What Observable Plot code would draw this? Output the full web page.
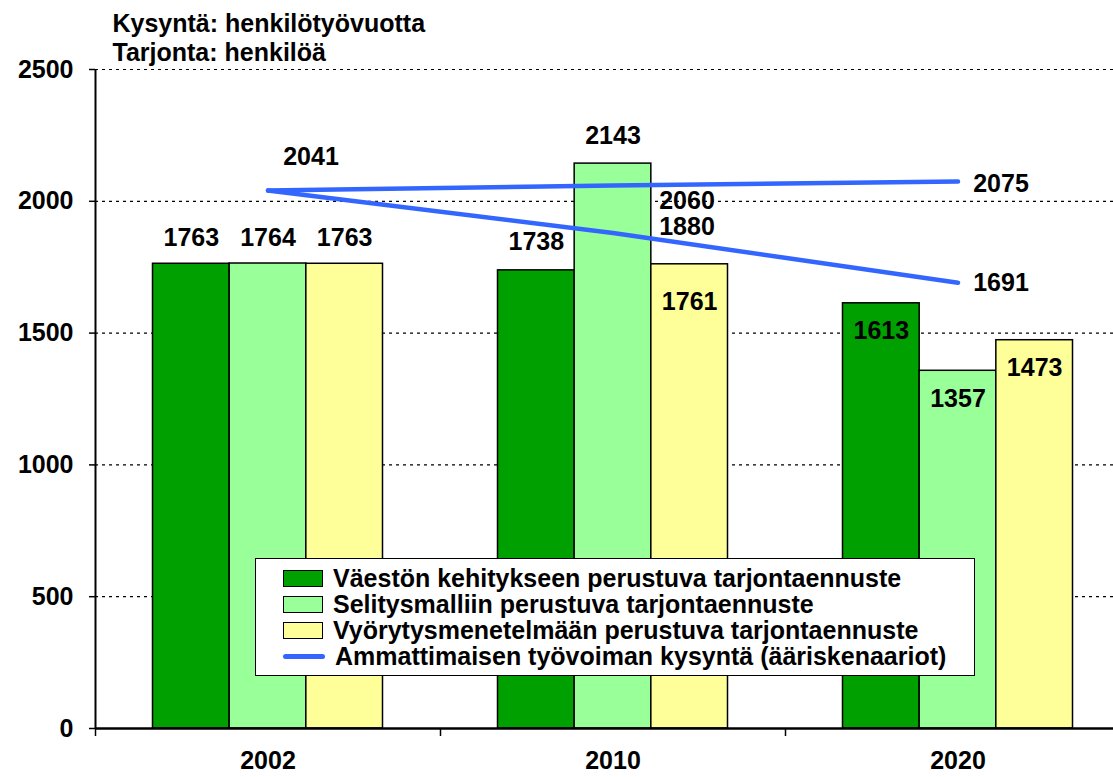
<!DOCTYPE html>
<html><head><meta charset="utf-8">
<script src="https://cdn.jsdelivr.net/npm/d3@7"></script>
<script src="https://cdn.jsdelivr.net/npm/@observablehq/plot@0.6"></script>
<style>
body{margin:0;background:#fff;font-family:"Liberation Sans",Arial,sans-serif;}
#wrap{position:relative;width:1113px;height:777px;overflow:hidden;}
#legend{position:absolute;left:255px;top:558px;width:720px;height:118px;border:1.5px solid #000;background:#fff;box-sizing:border-box;padding-top:6px;}
.row{display:flex;align-items:center;height:26px;font-weight:bold;font-size:25px;color:#000;white-space:nowrap;}
.sw{width:40px;height:17px;border:1.5px solid #000;margin-left:27px;margin-right:10px;box-sizing:border-box;}
.ln{width:42px;height:5px;border-radius:3px;margin-left:27px;margin-right:10px;background:#3366ff;}
</style></head><body><div id="wrap"></div>
<script>
// ---- data ----
const years = ["2002", "2010", "2020"];
const seriesNames = [
  "Väestön kehitykseen perustuva tarjontaennuste",
  "Selitysmalliin perustuva tarjontaennuste",
  "Vyörytysmenetelmään perustuva tarjontaennuste"
];
const lineName = "Ammattimaisen työvoiman kysyntä (ääriskenaariot)";
const vaesto = [1763, 1738, 1613];
const selitys = [1764, 2143, 1357];
const vyorytys = [1763, 1761, 1473];
const demandHigh = [2041, 2060, 2075];
const demandLow = [2041, 1880, 1691];
const yTicks = [0, 500, 1000, 1500, 2000, 2500];
const titleLines = ["Kysyntä: henkilötyövuotta", "Tarjonta: henkilöä"];

// ---- styles / layout ----
const colors = ["#00a000", "#99ff99", "#ffff99"];
const lineColor = "#3366ff";
const font = "'Liberation Sans', Arial, sans-serif";
const step = 345, barW = step / 4.5, outer = 0.75 * barW;
const barLabelDy = [[-26, -28, 28], [-26, -28, 28], [-26, 38, 28]];
const highLabel = {dx: [43, 74, 43], dy: [-33, 16, 2]};
const lowLabel = {dx: [43, 74, 43], dy: [0, -6, 0]};

const seriesValues = [vaesto, selitys, vyorytys];
const marks = [];

// grid
marks.push(Plot.ruleY(yTicks.filter(d => d > 0), {y: d => d, stroke: "#000", strokeWidth: 1.2, strokeDasharray: "3,4"}));

// bars
seriesValues.forEach((vals, i) => {
  const rows = years.map((y, j) => ({year: y, value: vals[j], series: seriesNames[i]}));
  marks.push(Plot.barY(rows, {
    x: "year", y: "value", fill: colors[i], stroke: "#000", strokeWidth: 1.5,
    insetLeft: outer + i * barW, insetRight: step - outer - (i + 1) * barW
  }));
});

// demand lines
const lineRows = [];
years.forEach((y, j) => {
  lineRows.push({year: y, value: demandHigh[j], scen: "high", dx: highLabel.dx[j], dy: highLabel.dy[j]});
  lineRows.push({year: y, value: demandLow[j], scen: "low", dx: lowLabel.dx[j], dy: lowLabel.dy[j]});
});
marks.push(Plot.line(lineRows, {x: "year", y: "value", z: "scen", stroke: lineColor, strokeWidth: 4.5, strokeLinecap: "round"}));

// bar labels
seriesValues.forEach((vals, i) => {
  years.forEach((y, j) => {
    marks.push(Plot.text([{year: y, value: vals[j]}], {
      x: "year", y: "value", text: d => String(d.value),
      dx: (i - 1) * barW, dy: barLabelDy[i][j],
      fontSize: 25, fontWeight: "bold", fill: "#000", fontFamily: font
    }));
  });
});

// line labels (first point shared by both lines)
lineRows.filter(d => !(d.year === "2002" && d.scen === "low")).forEach(d => {
  marks.push(Plot.text([d], {
    x: "year", y: "value", text: r => String(r.value), dx: d.dx, dy: d.dy,
    fontSize: 25, fontWeight: "bold", fill: "#000", fontFamily: font
  }));
});

// axes
marks.push(Plot.ruleX([years[0]], {x: d => d, y1: 0, y2: 2500, dx: -step / 2, stroke: "#000", strokeWidth: 2}));
marks.push(Plot.ruleY([0], {stroke: "#000", strokeWidth: 2.5}));
marks.push(Plot.axisY({ticks: yTicks, tickSize: 6, tickPadding: 16, tickFormat: d => String(d), fontSize: 25, fontWeight: "bold", fontFamily: font, strokeWidth: 1.5}));
marks.push(Plot.axisX({tickSize: 8, tickFormat: () => "", dx: -step / 2, strokeWidth: 1.5}));
marks.push(Plot.axisX({tickSize: 0, tickPadding: 23, fontSize: 25, fontWeight: "bold", fontFamily: font}));

// title
titleLines.forEach((t, k) => {
  marks.push(Plot.text([t], {
    text: d => d, frameAnchor: "top-left", textAnchor: "start", lineAnchor: "middle",
    dx: 17, dy: k === 0 ? -46 : -17,
    fontSize: 25, fontWeight: "bold", fill: "#000", fontFamily: font
  }));
});

const chart = Plot.plot({
  width: 1113, height: 777,
  marginLeft: 95, marginRight: 0, marginTop: 69, marginBottom: 49,
  style: {fontFamily: font, background: "#fff", overflow: "visible"},
  x: {domain: years, range: [95, 95 + 3 * step], padding: 0, label: null},
  y: {domain: [0, 2500], label: null},
  marks
});
const wrap = document.getElementById("wrap");
wrap.appendChild(chart);

// legend
const leg = document.createElement("div");
leg.id = "legend";
seriesNames.forEach((n, i) => {
  const r = document.createElement("div"); r.className = "row";
  const s = document.createElement("div"); s.className = "sw"; s.style.background = colors[i];
  const t = document.createElement("span"); t.textContent = n;
  r.appendChild(s); r.appendChild(t); leg.appendChild(r);
});
{
  const r = document.createElement("div"); r.className = "row";
  const s = document.createElement("div"); s.className = "ln";
  const t = document.createElement("span"); t.textContent = lineName;
  r.appendChild(s); r.appendChild(t); leg.appendChild(r);
}
wrap.appendChild(leg);
</script></body></html>
